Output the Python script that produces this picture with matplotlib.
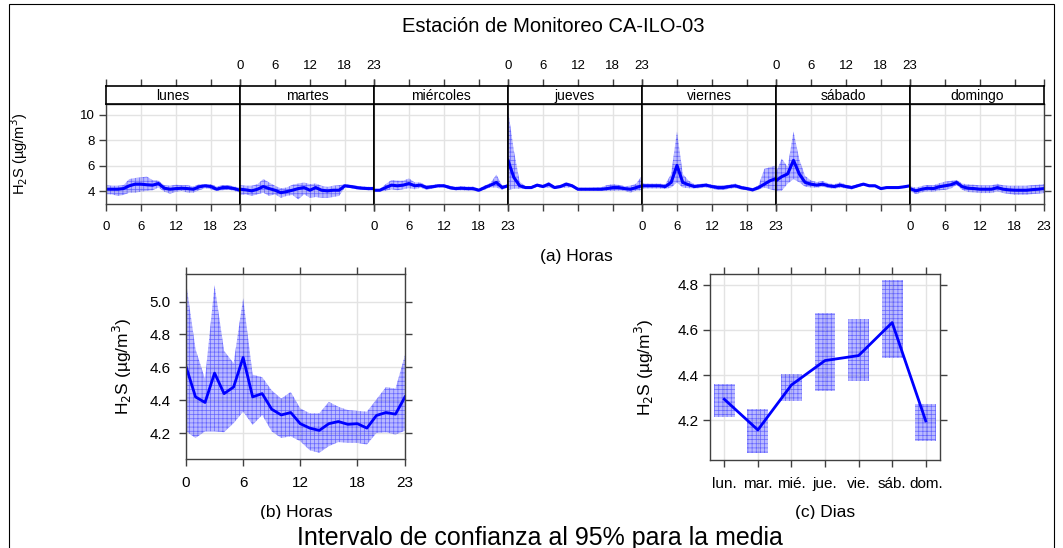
import matplotlib
matplotlib.use("Agg")
import matplotlib.pyplot as plt
from matplotlib.patches import Rectangle
import matplotlib.ticker as mticker
import numpy as np

plt.rcParams['font.family'] = ['Liberation Sans', 'DejaVu Sans']
plt.rcParams['hatch.linewidth'] = 0.5

# ---------------- data ----------------
hours = list(range(24))
day_names = ["lunes", "martes", "miércoles", "jueves", "viernes", "sábado", "domingo"]

lunes_mean = [4.16,4.16,4.16,4.21,4.43,4.56,4.56,4.51,4.48,4.61,4.24,4.16,4.21,4.24,4.21,4.16,4.35,4.43,4.37,4.16,4.29,4.29,4.21,4.08]
lunes_hi   = [4.48,4.43,4.43,4.48,4.96,5.04,5.09,5.15,4.88,4.83,4.48,4.43,4.51,4.48,4.48,4.37,4.56,4.56,4.56,4.37,4.48,4.48,4.37,4.29]
lunes_lo   = [3.76,3.76,3.63,3.71,3.89,3.89,3.97,4.03,4.08,4.29,3.97,3.81,3.95,4.03,3.89,3.89,4.08,4.24,4.16,4.03,4.08,4.13,4.03,3.89]

martes_mean = [4.16,4.11,4.03,4.16,4.37,4.21,4.08,3.89,3.97,4.08,4.21,4.29,4.08,4.29,4.08,4.03,4.08,4.08,4.43,4.37,4.29,4.24,4.21,4.21]
martes_hi   = [4.48,4.43,4.43,4.56,4.96,4.69,4.43,4.24,4.29,4.51,4.61,4.69,4.56,4.61,4.43,4.35,4.43,4.48,4.56,4.51,4.43,4.37,4.35,4.35]
martes_lo   = [3.71,3.76,3.63,3.76,3.89,3.63,3.76,3.49,3.63,3.71,3.36,3.76,3.49,3.55,3.49,3.49,3.55,3.63,4.29,4.24,4.16,4.11,4.08,4.08]

miercoles_mean = [4.08,4.08,4.29,4.48,4.43,4.48,4.61,4.43,4.48,4.29,4.35,4.43,4.43,4.29,4.21,4.24,4.21,4.21,4.08,4.29,4.48,4.69,4.29,4.43]
miercoles_hi   = [4.16,4.16,4.56,4.88,4.83,4.83,5.01,4.69,4.69,4.45,4.50,4.56,4.56,4.43,4.35,4.40,4.37,4.37,4.20,4.45,4.65,5.31,4.45,4.55]
miercoles_lo   = [4.00,4.00,4.03,4.16,4.08,4.16,4.24,4.16,4.27,4.13,4.20,4.30,4.30,4.15,4.07,4.08,4.05,4.05,3.96,4.13,4.30,4.29,4.13,4.31]

jueves_mean = [6.43,5.09,4.43,4.29,4.29,4.48,4.37,4.56,4.29,4.37,4.56,4.43,4.16,4.16,4.16,4.16,4.16,4.21,4.29,4.29,4.21,4.16,4.29,4.43]
jueves_hi   = [10.4,7.20,4.75,4.40,4.40,4.60,4.50,4.72,4.40,4.50,4.72,4.55,4.27,4.27,4.27,4.30,4.32,4.48,4.56,4.50,4.40,4.43,4.60,5.23]
jueves_lo   = [4.10,4.20,4.20,4.18,4.18,4.36,4.25,4.29,4.18,4.25,4.29,4.30,4.05,4.05,4.05,4.05,4.02,4.03,4.03,4.05,4.03,3.89,4.05,4.08]

viernes_mean = [4.43,4.43,4.43,4.43,4.37,4.69,6.03,4.69,4.51,4.37,4.43,4.48,4.37,4.29,4.29,4.37,4.43,4.29,4.21,4.11,4.29,4.56,4.83,5.00]
viernes_hi   = [4.62,4.60,4.60,4.60,4.55,5.36,8.69,5.36,4.83,4.55,4.58,4.62,4.52,4.45,4.45,4.52,4.60,4.43,4.35,4.25,4.45,5.76,5.89,6.03]
viernes_lo   = [4.20,4.22,4.22,4.22,4.18,4.29,4.69,4.29,4.24,4.22,4.25,4.30,4.20,4.12,4.12,4.20,4.25,4.15,4.07,3.98,4.13,4.29,4.16,4.03]

sabado_mean = [4.83,5.15,5.36,6.43,5.36,4.69,4.56,4.48,4.56,4.43,4.37,4.48,4.37,4.29,4.43,4.56,4.43,4.43,4.21,4.29,4.29,4.29,4.35,4.43]
sabado_hi   = [5.50,6.56,5.90,8.69,6.50,5.20,4.85,4.72,4.80,4.62,4.55,4.70,4.52,4.42,4.55,4.65,4.53,4.52,4.30,4.37,4.37,4.37,4.43,4.50]
sabado_lo   = [4.00,4.05,4.60,4.95,4.70,4.35,4.30,4.28,4.35,4.25,4.20,4.28,4.22,4.15,4.30,4.47,4.33,4.33,4.12,4.20,4.20,4.20,4.27,4.36]

domingo_mean = [4.21,4.03,4.16,4.24,4.21,4.35,4.43,4.51,4.69,4.35,4.24,4.21,4.16,4.16,4.16,4.29,4.16,4.11,4.08,4.08,4.08,4.13,4.16,4.21]
domingo_hi   = [4.41,4.28,4.41,4.49,4.46,4.63,4.75,4.81,4.89,4.60,4.54,4.51,4.46,4.46,4.46,4.59,4.46,4.43,4.43,4.43,4.43,4.48,4.51,4.56]
domingo_lo   = [4.01,3.78,3.91,3.99,3.96,4.07,4.11,4.21,4.49,4.10,3.94,3.91,3.86,3.86,3.86,3.99,3.86,3.79,3.73,3.73,3.73,3.78,3.81,3.86]

hour_mean = [4.605,4.42,4.386,4.565,4.44,4.48,4.66,4.42,4.44,4.345,4.31,4.325,4.257,4.23,4.216,4.257,4.27,4.253,4.257,4.23,4.307,4.325,4.315,4.42]
hour_hi   = [5.12,4.71,4.53,5.10,4.70,4.625,5.02,4.555,4.54,4.46,4.41,4.45,4.35,4.32,4.32,4.39,4.36,4.34,4.335,4.33,4.405,4.48,4.47,4.675]
hour_lo   = [4.21,4.17,4.21,4.21,4.205,4.26,4.33,4.25,4.31,4.21,4.17,4.18,4.15,4.095,4.08,4.12,4.145,4.14,4.14,4.13,4.20,4.205,4.19,4.215]

wd_labels = ["lun.", "mar.", "mié.", "jue.", "vie.", "sáb.", "dom."]
wd_mean = [4.293,4.157,4.356,4.464,4.486,4.632,4.197]
wd_hi   = [4.36,4.25,4.405,4.676,4.647,4.82,4.27]
wd_lo   = [4.213,4.054,4.287,4.33,4.375,4.474,4.11]

day_data = [
    (lunes_mean, lunes_lo, lunes_hi),
    (martes_mean, martes_lo, martes_hi),
    (miercoles_mean, miercoles_lo, miercoles_hi),
    (jueves_mean, jueves_lo, jueves_hi),
    (viernes_mean, viernes_lo, viernes_hi),
    (sabado_mean, sabado_lo, sabado_hi),
    (domingo_mean, domingo_lo, domingo_hi),
]

# ---------------- style ----------------
W, H = 1063, 548
fig = plt.figure(figsize=(W / 100, H / 100), dpi=100)
BLUE = "#0000ff"
FILL = (0, 0, 1, 0.27)
HATCH_C = (0, 0, 1, 0.45)
HATCH = "++++"
GRID = "#e3e3e3"
FRAME = "#404040"
YLAB = r"H$_2$S (µg/m$^3$)"


def px_axes(x0, y0, x1, y1):
    return fig.add_axes([x0 / W, 1 - y1 / H, (x1 - x0) / W, (y1 - y0) / H])


def style_axes(ax, fs):
    for s in ax.spines.values():
        s.set_color(FRAME)
        s.set_linewidth(1.0)
    ax.tick_params(direction="out", length=5, width=1, color=FRAME,
                   labelsize=fs)
    ax.tick_params(axis="x", pad=7)
    ax.tick_params(axis="y", pad=3)
    ax.grid(True, color=GRID, linewidth=1.0)
    ax.set_axisbelow(True)


def band(ax, x, lo, hi):
    ax.fill_between(x, lo, hi, facecolor=FILL, edgecolor=HATCH_C,
                    hatch=HATCH, linewidth=0)


fig.text(553 / W, 1 - 26 / H, "Estación de Monitoreo CA-ILO-03",
         ha="center", va="center", fontsize=14.5)

# ---------------- (a) top panel ----------------
x_left, pw = 106, 134
for i, (name, (m, lo, hi)) in enumerate(zip(day_names, day_data)):
    x0 = x_left + i * pw
    ax = px_axes(x0, 104, x0 + pw, 204)
    style_axes(ax, 9.5)
    band(ax, hours, lo, hi)
    ax.plot(hours, m, color=BLUE, linewidth=2.2)
    ax.set_xlim(0, 23)
    ax.set_ylim(3.0, 10.85)
    ax.set_xticks([0, 6, 12, 18, 23])
    ax.set_yticks([4, 6, 8, 10])
    ax.tick_params(axis="x", bottom=True, labelbottom=(i % 2 == 0))
    ax.tick_params(axis="y", left=(i == 0), labelleft=(i == 0),
                   right=(i == 6), labelright=False)
    if i > 0:
        ax.spines["left"].set_color("black")
        ax.spines["left"].set_linewidth(1.2)
    if i < 6:
        ax.spines["right"].set_color("black")
        ax.spines["right"].set_linewidth(1.2)
    if i == 0:
        ax.set_ylabel(YLAB, fontsize=10.5)
        ax.yaxis.set_label_coords((30 - x0) / pw, 0.5)
    # strip
    st = px_axes(x0, 86, x0 + pw, 104)
    st.set_xlim(0, 23)
    st.set_ylim(0, 1)
    st.set_yticks([])
    st.set_xticks([0, 6, 12, 18, 23])
    st.tick_params(axis="x", bottom=False, labelbottom=False, top=True,
                   labeltop=(i % 2 == 1), direction="out", length=5,
                   width=1, color=FRAME, labelsize=9.5, pad=5)
    for s in st.spines.values():
        s.set_color("black")
        s.set_linewidth(1.2)
    st.text(11.5, 0.45, name, ha="center", va="center", fontsize=10)

fig.text(576 / W, 1 - 256 / H, "(a) Horas", ha="center", va="center",
         fontsize=12.5)

# ---------------- (b) hour panel ----------------
bx0, bx1 = 186, 405
axb = px_axes(bx0, 274, bx1, 459)
style_axes(axb, 11)
band(axb, hours, hour_lo, hour_hi)
axb.plot(hours, hour_mean, color=BLUE, linewidth=2)
axb.set_xlim(0, 23)
axb.set_ylim(4.042, 5.168)
axb.set_xticks([0, 6, 12, 18, 23])
axb.set_yticks([4.2, 4.4, 4.6, 4.8, 5.0])
axb.yaxis.set_major_formatter(mticker.FormatStrFormatter("%.1f"))
axb.tick_params(top=True, right=True)
axb.tick_params(axis="y", pad=6)
axb.set_ylabel(YLAB, fontsize=12.5)
axb.yaxis.set_label_coords((134 - bx0) / (bx1 - bx0), 0.5)
fig.text(296 / W, 1 - 512 / H, "(b) Horas", ha="center", va="center",
         fontsize=12.5)

# ---------------- (c) weekday panel ----------------
cx0, cx1 = 710, 940
axc = px_axes(cx0, 274, cx1, 460)
style_axes(axc, 11)
xpos = np.arange(1, 8)
axc.bar(xpos, np.array(wd_hi) - np.array(wd_lo), bottom=wd_lo, width=0.62,
        facecolor=FILL, edgecolor=HATCH_C, hatch=HATCH, linewidth=0)
axc.plot(xpos, wd_mean, color=BLUE, linewidth=2)
axc.set_xlim(0.575, 7.425)
axc.set_ylim(4.024, 4.847)
axc.set_xticks(xpos)
axc.set_xticklabels(wd_labels)
axc.set_yticks([4.2, 4.4, 4.6, 4.8])
axc.yaxis.set_major_formatter(mticker.FormatStrFormatter("%.1f"))
axc.tick_params(top=True, right=True)
axc.set_ylabel(YLAB, fontsize=12.5)
axc.yaxis.set_label_coords((656 - cx0) / (cx1 - cx0), 0.5)
fig.text(825 / W, 1 - 512 / H, "(c) Dias", ha="center", va="center",
         fontsize=12.5)

# caption area (white box covering the lower part of the panel titles)
fig.patches.append(Rectangle((9 / W, 0), (1054 - 9) / W, 1 - 519 / H,
                             transform=fig.transFigure, facecolor="white",
                             edgecolor="none", zorder=5))
fig.text(540 / W, 1 - 545 / H, "Intervalo de confianza al 95% para la media",
         ha="center", va="baseline", fontsize=18, zorder=6)

# figure frame
fig.patches.append(Rectangle((9 / W, -0.1), (1054 - 9) / W, 1.1 - 4 / H,
                             transform=fig.transFigure, fill=False,
                             edgecolor="black", linewidth=0.8, zorder=7))

fig.savefig("out.png", dpi=100)
